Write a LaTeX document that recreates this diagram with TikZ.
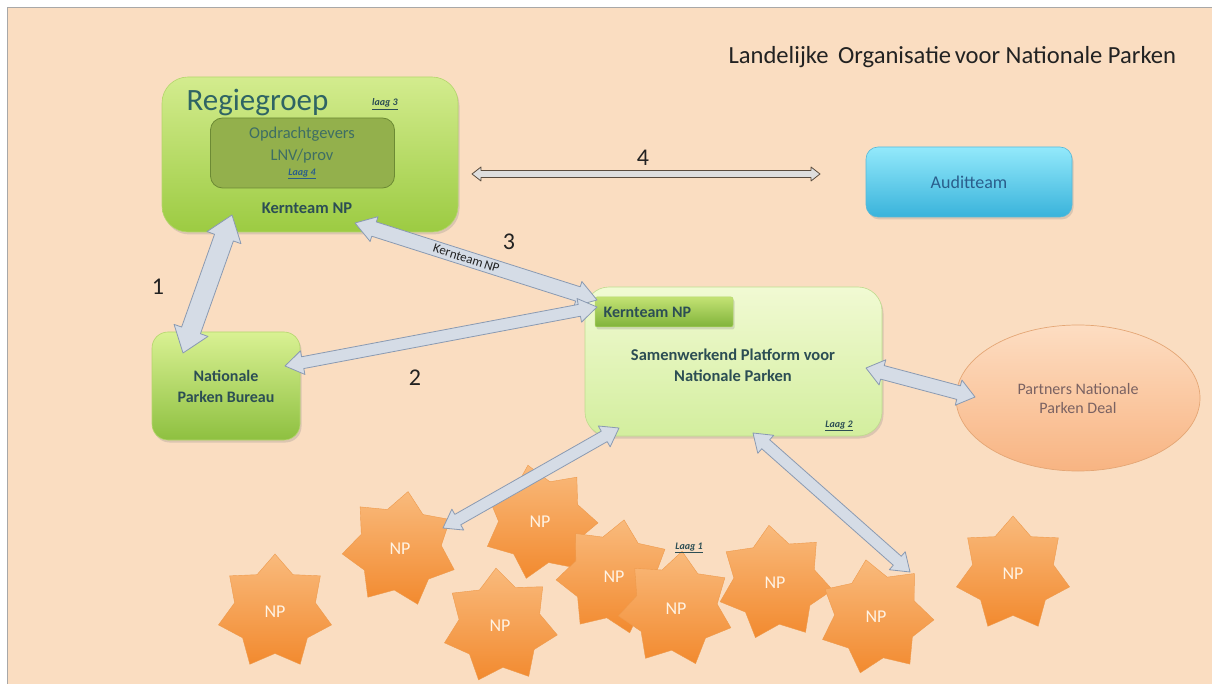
\documentclass[tikz,border=0pt]{standalone}
\usepackage{fontspec}
\setmainfont{Carlito}
\usetikzlibrary{calc,shapes.geometric,shadows}

\definecolor{bg}{HTML}{FADDC1}
\definecolor{framegray}{HTML}{A8A8A8}
\definecolor{regT}{HTML}{D3EC8E}
\definecolor{regB}{HTML}{9CCB42}
\definecolor{regE}{HTML}{B4D66C}
\definecolor{innF}{HTML}{93B04C}
\definecolor{innE}{HTML}{6C8A34}
\definecolor{npbT}{HTML}{D9F193}
\definecolor{npbB}{HTML}{8EC040}
\definecolor{platT}{HTML}{F1FAD3}
\definecolor{platB}{HTML}{D3EE9E}
\definecolor{platE}{HTML}{BFDB8E}
\definecolor{kernT}{HTML}{C3E274}
\definecolor{kernB}{HTML}{80B33A}
\definecolor{audT}{HTML}{93E9FB}
\definecolor{audB}{HTML}{39B3DB}
\definecolor{audE}{HTML}{56B9D9}
\definecolor{ellT}{HTML}{FDDDC2}
\definecolor{ellB}{HTML}{F8B482}
\definecolor{ellE}{HTML}{E4A675}
\definecolor{starT}{HTML}{F9BA7C}
\definecolor{starB}{HTML}{F28A2F}
\definecolor{starE}{HTML}{EE9A4C}
\definecolor{arrF}{HTML}{D5DCE6}
\definecolor{arrE}{HTML}{8A9AB2}
\definecolor{thinF}{HTML}{DEDEDE}
\definecolor{thinE}{HTML}{5A4C3E}
\definecolor{darktxt}{HTML}{2C4E54}
\definecolor{regtxt}{HTML}{2F6464}
\definecolor{optxt}{HTML}{3E6E64}
\definecolor{audtxt}{HTML}{2A5E8C}
\definecolor{partxt}{HTML}{7A6262}
\definecolor{nptxt}{HTML}{FFF3E4}
\definecolor{numtxt}{HTML}{222222}

\newcommand\fsz[2]{\fontsize{#1}{#2}\selectfont}
\newcommand\laagtxt[1]{\underline{\textbf{\textit{#1}}}}
% block double arrow: style, from, to, half shaft, half head, head length
\newcommand\myblockarrow[6]{%
  \draw[#1] (#2) -- ($(#2)!#6!(#3)!#5!90:(#3)$) -- ($(#2)!#6!(#3)!#4!90:(#3)$)
    -- ($(#3)!#6!(#2)!#4!-90:(#2)$) -- ($(#3)!#6!(#2)!#5!-90:(#2)$) -- (#3)
    -- ($(#3)!#6!(#2)!#5!90:(#2)$) -- ($(#3)!#6!(#2)!#4!90:(#2)$)
    -- ($(#2)!#6!(#3)!#4!-90:(#3)$) -- ($(#2)!#6!(#3)!#5!-90:(#3)$) -- cycle;}

\tikzset{
  softshadow/.style={drop shadow={opacity=.25,shadow xshift=1.5pt,shadow yshift=-2.5pt}},
  greenbox/.style={draw=regE, line width=.6pt, top color=regT, bottom color=regB, rounded corners=26pt, softshadow},
  innerbox/.style={draw=innE, line width=.8pt, fill=innF, rounded corners=12pt},
  npbbox/.style={draw=regE, line width=.6pt, top color=npbT, bottom color=npbB, rounded corners=16pt, softshadow},
  platbox/.style={draw=platE, line width=.6pt, top color=platT, bottom color=platB, rounded corners=24pt, softshadow},
  kernbox/.style={draw=regE, line width=.5pt, top color=kernT, bottom color=kernB, rounded corners=2pt, softshadow},
  audbox/.style={draw=audE, line width=.6pt, top color=audT, bottom color=audB, rounded corners=12pt, softshadow},
  partell/.style={ellipse, draw=ellE, line width=.7pt, top color=ellT, bottom color=ellB, inner sep=0pt},
  npstar/.style={star, star points=7, star point ratio=1.4, minimum size=116pt, inner sep=0pt,
    top color=starT, bottom color=starB, draw=starE, line width=.4pt, text=nptxt, font=\fsz{18}{20}},
  blockarr/.style={fill=arrF, draw=arrE, line width=.8pt, line join=round},
  thinarr/.style={fill=thinF, draw=thinE, line width=.8pt, line join=round},
  boldlbl/.style={font=\bfseries\fsz{16}{21}, text=darktxt, align=center},
  laaglbl/.style={font=\fsz{10}{12}, text=darktxt},
  numlbl/.style={font=\fsz{24}{26}, text=numtxt},
}

\begin{document}
\begin{tikzpicture}[x=1pt,y=-1pt]
\useasboundingbox (0,0) rectangle (1212,684);
\fill[white] (0,0) rectangle (1212,684);
\fill[bg] (7,8) rectangle (1212,684);
\draw[framegray, line width=1pt] (7,684) -- (7,8) -- (1212,8);

% title
\node[anchor=base west, font=\fsz{24.6}{28}, text=numtxt] (title) at (725,64)
  {Landelijke\hspace{4pt} Organisatie\hspace{-2pt} voor Nationale Parken};

% Regiegroep
\node[greenbox, minimum width=296pt, minimum height=155pt] (reg) at (310,154.5) {};
\node[anchor=base west, font=\fsz{31}{34}, text=regtxt] (regt) at (183,111) {Regiegroep};
\node[laaglbl, anchor=base] (l3) at (385,106) {\laagtxt{laag 3}};
\node[innerbox, minimum width=184pt, minimum height=70pt] (inner) at (302.5,153) {};
\node[font=\fsz{16.5}{18}, text=optxt] (op1) at (302,134) {Opdrachtgevers};
\node[font=\fsz{16.5}{18}, text=optxt] (op2) at (302,156) {LNV/prov};
\node[laaglbl, text=audtxt] (l4) at (302,174) {\laagtxt{Laag 4}};
\node[boldlbl, font=\bfseries\fsz{16.5}{18}] (kern1) at (307,208) {Kernteam NP};

% Audit
\node[audbox, minimum width=206pt, minimum height=70pt] (aud) at (969,182) {};
\node[font=\fsz{18}{20}, text=audtxt] (audt) at (969,182) {Auditteam};

% Nationale Parken Bureau
\node[npbbox, minimum width=148pt, minimum height=108pt] (npb) at (226,386) {};
\node[boldlbl] (npbt) at (226,386) {Nationale\\Parken Bureau};

% Platform
\node[platbox, minimum width=297pt, minimum height=149pt] (plat) at (733.5,361.5) {};
\node[boldlbl, font=\bfseries\fsz{16.5}{21}] (platt) at (733,365) {Samenwerkend Platform voor\\Nationale Parken};
\node[kernbox, minimum width=138pt, minimum height=30pt] (kern2) at (664,312) {};
\node[boldlbl, anchor=west, font=\bfseries\fsz{16}{18}] (kern2t) at (600,312) {Kernteam NP};
\node[laaglbl] (l2) at (839,426) {\laagtxt{Laag 2}};

% Partners
\node[partell, minimum width=244pt, minimum height=146pt] (part) at (1078,398) {};
\node[font=\fsz{16}{19}, text=partxt, align=center] (partt) at (1078,399) {Partners Nationale\\Parken Deal};

% stars
\node[npstar, shape border rotate=0] (np1) at (275,612) {NP};
\node[npstar, shape border rotate=-8] (np2) at (400,549) {NP};
\node[npstar, shape border rotate=4] (np3) at (500,626) {NP};
\node[npstar, shape border rotate=12] (np4) at (540,522) {NP};
\node[npstar, shape border rotate=-10] (np5) at (614,577) {NP};
\node[npstar, shape border rotate=6] (np6) at (775,583) {NP};
\node[npstar, shape border rotate=-6] (np7) at (676,609) {NP};
\node[npstar, shape border rotate=10] (np8) at (876,617) {NP};
\node[npstar, shape border rotate=0] (np9) at (1013,574) {NP};
\node[laaglbl] (l1) at (689,548) {\laagtxt{Laag 1}};

% arrow end points
\coordinate (a1s) at (232,215);
\coordinate (a1e) at (183,353);
\coordinate (a3s) at (355,223);
\coordinate (a3e) at (597,300);
\coordinate (a2s) at (285,366);
\coordinate (a2e) at (597,307);
\coordinate (a4s) at (472,174);
\coordinate (a4e) at (820,174);
\coordinate (aps) at (866,368);
\coordinate (ape) at (975,397);
\coordinate (als) at (619,428);
\coordinate (ale) at (443,528);
\coordinate (ars) at (753,433);
\coordinate (are) at (910,572);

\myblockarrow{blockarr}{a1s}{a1e}{10pt}{18pt}{24pt}
\myblockarrow{blockarr}{a3s}{a3e}{7.5pt}{13pt}{20pt}
\myblockarrow{blockarr}{a2s}{a2e}{6pt}{12pt}{18pt}
\myblockarrow{blockarr}{aps}{ape}{7pt}{13pt}{17pt}
\myblockarrow{blockarr}{als}{ale}{6pt}{12pt}{17pt}
\myblockarrow{blockarr}{ars}{are}{6pt}{12pt}{17pt}
\myblockarrow{thinarr}{a4s}{a4e}{3.5pt}{7pt}{9pt}

\path (a3s) -- (a3e) node[pos=0.46, sloped, font=\fsz{13}{15}, text=numtxt, inner sep=1pt] (a3lbl) {Kernteam\,NP};

% numbers
\node[numlbl] (n1) at (158,287) {1};
\node[numlbl] (n2) at (415,378) {2};
\node[numlbl] (n3) at (509,242) {3};
\node[numlbl] (n4) at (643,158) {4};
\end{tikzpicture}
\end{document}
